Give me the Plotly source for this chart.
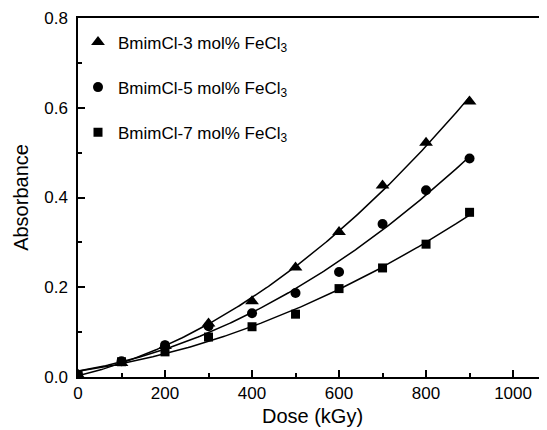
import numpy as np
import plotly.graph_objects as go

dose = [0, 100, 200, 300, 400, 500, 600, 700, 800, 900]
abs_3 = [0.005, 0.031, 0.069, 0.119, 0.169, 0.244, 0.323, 0.427, 0.522, 0.614]
abs_5 = [0.005, 0.035, 0.071, 0.113, 0.142, 0.187, 0.234, 0.341, 0.416, 0.487]
abs_7 = [0.005, 0.034, 0.056, 0.089, 0.112, 0.140, 0.197, 0.243, 0.296, 0.367]

names = ["BmimCl-3 mol% FeCl<sub>3</sub>",
         "BmimCl-5 mol% FeCl<sub>3</sub>",
         "BmimCl-7 mol% FeCl<sub>3</sub>"]
symbols = ["triangle-up", "circle", "square"]
sizes = [12, 10, 9]
series = [abs_3, abs_5, abs_7]

FONT = "Arial, Liberation Sans, sans-serif"
fig = go.Figure()

xfit = np.linspace(0, 900, 200)
for i, y in enumerate(series):
    coef = np.polyfit(dose, y, 2)
    fig.add_trace(go.Scatter(x=xfit, y=np.polyval(coef, xfit), mode="lines",
                             line=dict(color="black", width=1.5),
                             showlegend=False, hoverinfo="skip"))
for i, y in enumerate(series):
    fig.add_trace(go.Scatter(x=dose, y=y, mode="markers", name=names[i],
                             legendgroup=str(i),
                             marker=dict(symbol=symbols[i], size=sizes[i], color="black")))

fig.update_layout(
    width=539, height=422,
    margin=dict(l=70, r=0, t=10, b=53),
    paper_bgcolor="white", plot_bgcolor="white",
    font=dict(family=FONT, size=17, color="black"),
    legend=dict(x=0.0, y=0.982, xanchor="left", yanchor="top",
                bgcolor="rgba(0,0,0,0)", tracegroupgap=20,
                font=dict(size=17), itemwidth=30),
)
fig.update_xaxes(range=[0, 1078], tickvals=[0, 200, 400, 600, 800, 1000],
                 ticks="inside", ticklen=7, tickwidth=1.5, tickcolor="black",
                 minor=dict(dtick=100, ticks="inside", ticklen=4, tickwidth=1.5, tickcolor="black"),
                 showline=True, linecolor="black", linewidth=1.5, mirror=True,
                 showgrid=False, zeroline=False, automargin=False,
                 title=dict(text="Dose (kGy)", standoff=7),
                 ticklabelstandoff=0)
fig.update_yaxes(range=[0, 0.8], tickvals=[0, 0.2, 0.4, 0.6, 0.8], tickformat=".1f",
                 ticks="inside", ticklen=7, tickwidth=1.5, tickcolor="black",
                 minor=dict(dtick=0.1, ticks="inside", ticklen=4, tickwidth=1.5, tickcolor="black"),
                 showline=True, linecolor="black", linewidth=1.5, mirror=False,
                 showgrid=False, zeroline=False, automargin=False,
                 title=dict(text="Absorbance", standoff=10),
                 ticklabelstandoff=5)

fig.write_html("out.html")
